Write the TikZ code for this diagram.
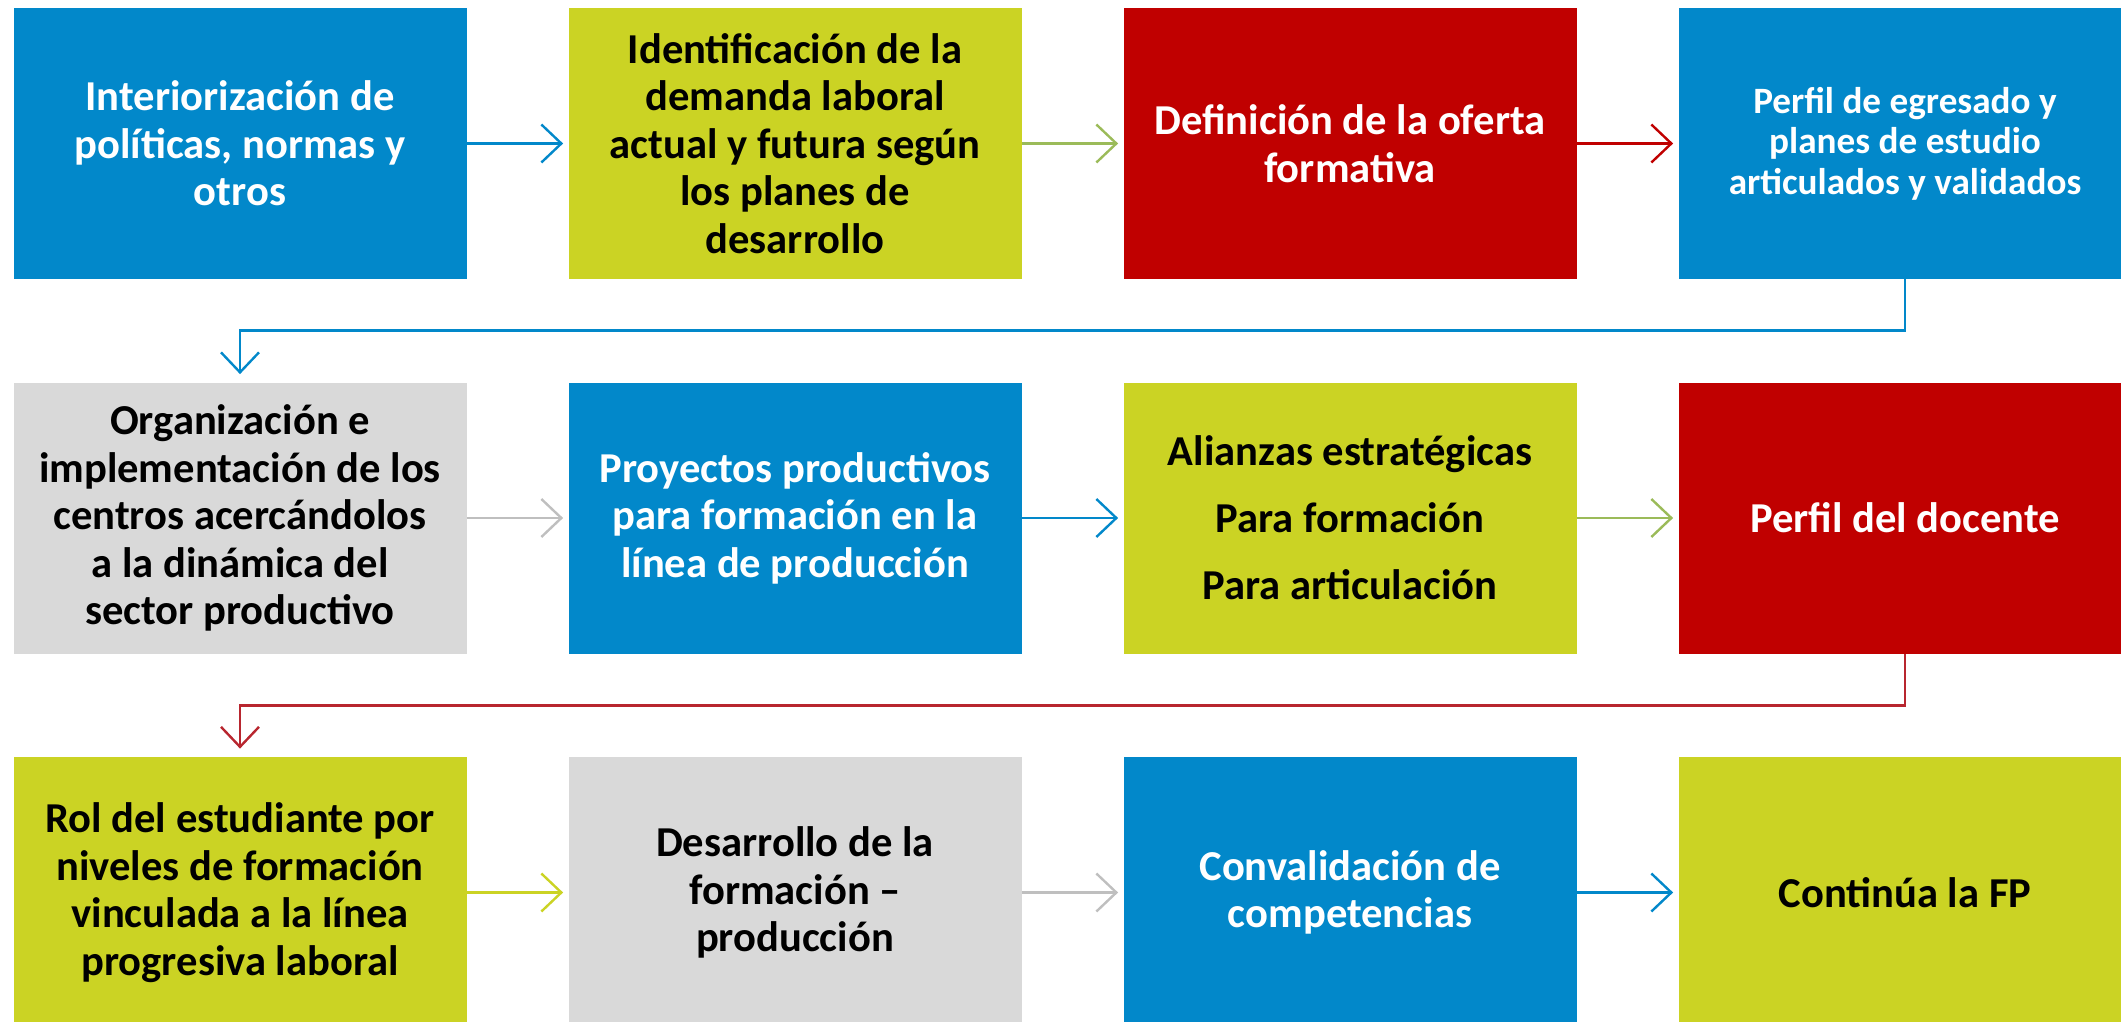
\documentclass[tikz,border=0pt]{standalone}
\usepackage{fontspec}
\setmainfont{Carlito}
\usetikzlibrary{arrows.meta}
\definecolor{cblue}{HTML}{0288CA}
\definecolor{clime}{HTML}{CBD324}
\definecolor{cred}{HTML}{C00000}
\definecolor{cgray}{HTML}{D9D9D9}
\definecolor{agreen}{HTML}{9BBB59}
\definecolor{agray}{HTML}{BFBFBF}
\definecolor{ared}{HTML}{B8262F}
\begin{document}
\begin{tikzpicture}[x=0.5pt,y=-0.5pt,
  box/.style={minimum width=226.5pt, minimum height=135.5pt, inner sep=0pt, align=center,
    font=\bfseries\fontsize{21.3}{23.8}\selectfont},
  bluebox/.style={box, fill=cblue, text=white},
  limebox/.style={box, fill=clime, text=black},
  redbox/.style={box, fill=cred, text=white},
  graybox/.style={box, fill=cgray, text=black},
  arr/.style={line width=1.2pt, -{Straight Barb[length=10pt,width=19pt,line width=1.2pt]}, shorten >=2.5pt},
]
\useasboundingbox (0,0) rectangle (2121,1022);
\begin{scope}
\clip (0,0) rectangle (2121,1022);
% row 1
\node[bluebox] (b1) at (240,143.5) {Interiorización de\\políticas, normas y\\otros};
\node[limebox] (b2) at (795,143.5) {Identificación de la\\demanda laboral\\actual y futura según\\los planes de\\desarrollo};
\node[redbox] (b3) at (1350,143.5) {Definición de la oferta\\formativa};
\node[bluebox, font=\bfseries\fontsize{18.6}{20.3}\selectfont] (b4) at (1905,143.5) {Perfil de egresado y\\planes de estudio\\articulados y validados};
% row 2
\node[graybox] (b5) at (240,518) {Organización e\\implementación de los\\centros acercándolos\\a la dinámica del\\sector productivo};
\node[bluebox] (b6) at (795,518) {Proyectos productivos\\para formación en la\\línea de producción};
\node[limebox, font=\bfseries\fontsize{21.3}{33.5}\selectfont] (b7) at (1350,518) {Alianzas estratégicas\\Para formación\\Para articulación};
\node[redbox] (b8) at (1905,518) {Perfil del docente};
% row 3
\node[limebox] (b9) at (240,892.5) {Rol del estudiante por\\niveles de formación\\vinculada a la línea\\progresiva laboral};
\node[graybox] (b10) at (795,892.5) {Desarrollo de la\\formación –\\producción};
\node[bluebox] (b11) at (1350,892.5) {Convalidación de\\competencias};
\node[limebox] (b12) at (1905,892.5) {Continúa la FP};
\end{scope}
% row 1 arrows
\draw[arr, cblue] (b1.east) -- (b2.west);
\draw[arr, agreen] (b2.east) -- (b3.west);
\draw[arr, cred] (b3.east) -- (b4.west);
\draw[arr, cblue, shorten >=4pt] (b4.south) -- ++(0,51) -| (b5.north);
% row 2 arrows
\draw[arr, agray] (b5.east) -- (b6.west);
\draw[arr, cblue] (b6.east) -- (b7.west);
\draw[arr, agreen] (b7.east) -- (b8.west);
\draw[arr, ared, shorten >=4pt] (b8.south) -- ++(0,51.5) -| (b9.north);
% row 3 arrows
\draw[arr, clime] (b9.east) -- (b10.west);
\draw[arr, agray] (b10.east) -- (b11.west);
\draw[arr, cblue] (b11.east) -- (b12.west);
\end{tikzpicture}
\end{document}
